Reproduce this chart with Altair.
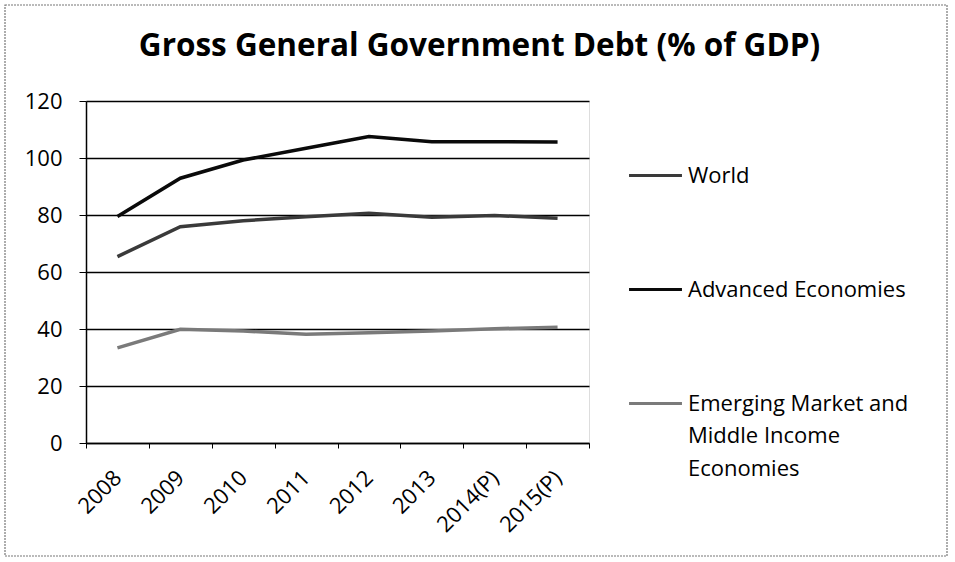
import altair as alt
import pandas as pd

years = ["2008", "2009", "2010", "2011", "2012", "2013", "2014(P)", "2015(P)"]
world = [65.4, 75.9, 78.0, 79.4, 80.6, 79.2, 79.8, 78.9]
advanced = [79.5, 92.9, 99.3, 103.4, 107.5, 105.7, 105.7, 105.6]
emerging = [33.4, 39.9, 39.3, 38.2, 38.7, 39.3, 40.1, 40.6]

series_names = ["World", "Advanced Economies", "Emerging Market and Middle Income Economies"]
series_colors = ["#3a3a3a", "#0a0a0a", "#7a7a7a"]

rows = []
for name, vals in zip(series_names, [world, advanced, emerging]):
    for yr, v in zip(years, vals):
        rows.append({"Year": yr, "Series": name, "Debt": v})
df = pd.DataFrame(rows)

FONT = "Open Sans"

lines = alt.Chart(df).mark_line(strokeWidth=3.5).encode(
    x=alt.X(
        "Year:N",
        sort=years,
        scale=alt.Scale(paddingInner=0, paddingOuter=0),
        axis=alt.Axis(
            title=None,
            labelAngle=-45,
            labelAlign="right",
            labelBaseline="middle",
            labelFontSize=22,
            labelFont=FONT,
            labelColor="#000",
            labelPadding=26,
            tickBand="extent",
            tickSize=5,
            tickColor="#000",
            domainColor="#000",
            domainWidth=1.5,
            grid=False,
        ),
    ),
    y=alt.Y(
        "Debt:Q",
        scale=alt.Scale(domain=[0, 120]),
        axis=alt.Axis(
            title=None,
            values=[0, 20, 40, 60, 80, 100, 120],
            labelFontSize=22,
            labelFont=FONT,
            labelColor="#000",
            labelPadding=17,
            tickSize=7,
            tickColor="#000",
            domainColor="#000",
            domainWidth=1.5,
            grid=True,
            gridColor="#000",
            gridWidth=1.3,
        ),
    ),
    color=alt.Color(
        "Series:N",
        sort=series_names,
        scale=alt.Scale(domain=series_names, range=series_colors),
        legend=alt.Legend(
            title=None,
            orient="none",
            legendX=541,
            legendY=46,
            symbolType="stroke",
            symbolSize=2800,
            symbolStrokeWidth=3.2,
            labelFont=FONT,
            labelFontSize=22,
            labelColor="#000",
            labelOffset=4,
            labelLimit=400,
            rowPadding=74,
            labelExpr="datum.label == 'Emerging Market and Middle Income Economies' ? ['Emerging Market and', 'Middle Income', 'Economies'] : datum.label",
        ),
    ),
)

# thin frame around the whole chart
frame = alt.Chart(pd.DataFrame({"k": [0]})).mark_rect(
    fill=None, stroke="#777", strokeWidth=1.2, strokeDash=[2, 1]
).encode(
    x=alt.value(-81), x2=alt.value(861), y=alt.value(-96), y2=alt.value(455)
)

chart = alt.layer(frame, lines).properties(
    width=503,
    height=342,
    title=alt.TitleParams(
        "Gross General Government Debt (% of GDP)",
        font=FONT,
        fontSize=31.5,
        fontWeight="bold",
        color="#000",
        anchor="middle",
        baseline="alphabetic",
        dx=142,
        offset=-83,
    ),
    padding={"left": 86, "top": 101, "right": 366, "bottom": 119},
    autosize=alt.AutoSizeParams(type="none"),
).configure_view(stroke=None).configure(
    background="white",
    style={"guide-label": {"lineHeight": 32.5}},
)

chart.save("out.html", embed_options={"renderer": "svg", "actions": False})
